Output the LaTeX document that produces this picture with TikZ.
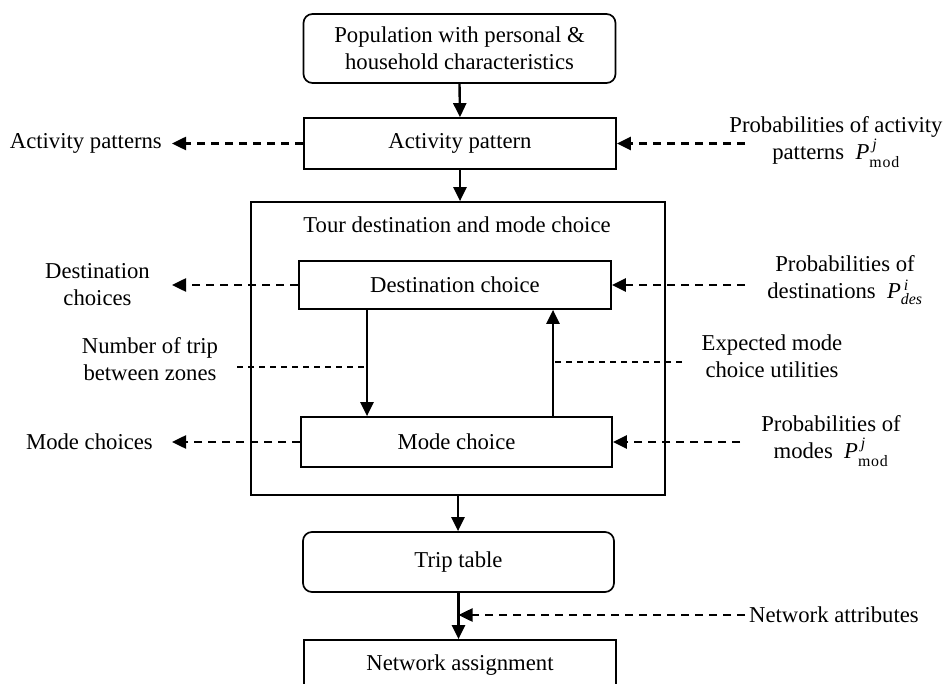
\documentclass[tikz,border=0pt]{standalone}
\usepackage{fontspec}
\usepackage{amsmath}
\setmainfont{Liberation Serif}
\usetikzlibrary{arrows.meta}
\newcommand{\Pmod}{$\textit{P}^{\,\textit{j}}_{\text{m\kern0.8pt o\kern0.8pt d}}$}
\newcommand{\Pdes}{$\textit{P}^{\,\textit{i}}_{\textit{des}}$}
\begin{document}
\begin{tikzpicture}[x=1pt,y=-1pt,
  every node/.style={font=\fontsize{22.7}{27}\selectfont, inner sep=0pt},
  box/.style={draw, line width=1.7pt, minimum width=312pt},
  rbox/.style={box, rounded corners=9pt},
  flow/.style={line width=2.4pt, -{Triangle[length=14pt,width=13pt]}},
  darr/.style={line width=2.5pt, dash pattern=on 8pt off 6pt, -{Triangle[length=14pt,width=13pt]}},
  thind/.style={line width=1.4pt, dash pattern=on 6pt off 5pt}]
\useasboundingbox (0,0) rectangle (945,684);
\clip (0,0) rectangle (945,684);
% main boxes
\node[rbox, minimum height=69pt, align=center] (pop) at (459.5,48.5) {Population with personal \&\\household characteristics};
\node[box, minimum height=51pt] (act) at (460,143.5) {Activity pattern};
\node[draw, line width=1.7pt, minimum width=414pt, minimum height=293pt] (tour) at (458,348.5) {};
\node (tourt) at (457,225) {Tour destination and mode choice};
\node[box, minimum height=48pt] (dest) at (455,285) {Destination choice};
\node[box, minimum height=50pt, minimum width=311pt] (mode) at (456.5,442) {Mode choice};
\node[rbox, minimum height=60pt, minimum width=311pt] (trip) at (458.5,562) {Trip table};
\node[box, minimum height=50pt] (net) at (460,665) {Network assignment};
% helper coordinates
\coordinate (dx) at (367,0);
\coordinate (ux) at (553,0);
% flow arrows
\draw[flow] (pop.south) -- (act.north);
\draw[flow] (act.south) -- (act.south |- tour.north);
\draw[flow] (dest.south -| dx) -- (mode.north -| dx);
\draw[flow] (mode.north -| ux) -- (dest.south -| ux);
\draw[flow] (tour.south) -- (tour.south |- trip.north);
\draw[flow] (trip.south) -- (trip.south |- net.north);
% left outputs
\node[anchor=east, inner xsep=10pt] (lact) at (172,143.5) {Activity patterns};
\draw[darr] (act.west) -- (lact.east);
\node[anchor=east, inner xsep=22pt, align=center] (ldest) at (172,285) {Destination\\choices};
\draw[darr] (dest.west) -- (ldest.east);
\node[anchor=east, inner xsep=19pt] (lmode) at (172,442) {Mode choices};
\draw[darr] (mode.west) -- (lmode.east);
% inner annotations
\node[align=center] (ntrip) at (150,359) {Number of trip\\between zones};
\coordinate (nt) at (237,367);
\draw[thind] (nt) -- (nt -| dx);
\node[align=center] (expu) at (772,356) {Expected mode\\choice utilities};
\coordinate (ex) at (682,362);
\draw[thind] (ex) -- (ex -| ux);
% right inputs
\node[align=center] (ract) at (836,142) {Probabilities of activity\\patterns\ \ \Pmod};
\coordinate (ra) at (745,143.5);
\draw[darr] (ra) -- (act.east);
\node[align=center] (rdest) at (845,280) {Probabilities of\\destinations\ \ \Pdes};
\coordinate (rd) at (745,285);
\draw[darr] (rd) -- (dest.east);
\node[align=center] (rmode) at (831,441) {Probabilities of\\modes\ \ \Pmod};
\coordinate (rm) at (740,442);
\draw[darr] (rm) -- (mode.east);
\node[anchor=west, inner xsep=4pt] (natt) at (745,615) {Network attributes};
\draw[darr] (natt.west) -- (natt.west -| trip.south);
\end{tikzpicture}
\end{document}
